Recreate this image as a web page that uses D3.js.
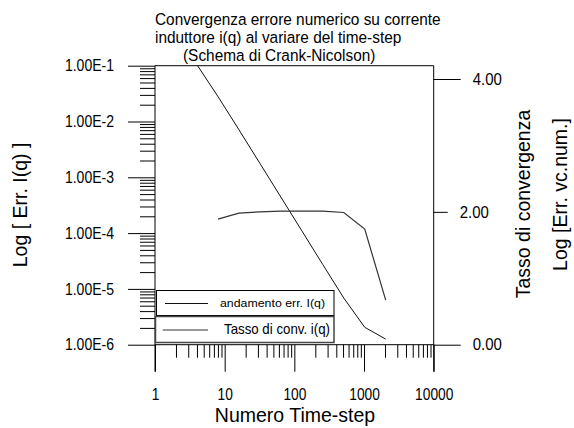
<!DOCTYPE html>
<html>
<head>
<meta charset="utf-8">
<script src="https://cdn.jsdelivr.net/npm/d3@7"></script>
<style>
  body { margin: 0; background: #fff; }
  svg { display: block; }
  text { font-family: "Liberation Sans", Arial, sans-serif; fill: #000; }
</style>
</head>
<body>
<svg id="chart" width="574" height="428"></svg>
<script>
// ---- data ----
const titleLines = [
  "Convergenza errore numerico su corrente",
  "induttore i(q) al variare del time-step",
  "(Schema di Crank-Nicolson)"
];
const timeSteps = [4, 8, 16, 32, 64, 128, 256, 512, 1024, 2048];
const errI = [1.04e-1, 2.81e-2, 7.14e-3, 1.78e-3, 4.42e-4, 1.10e-4, 2.73e-5, 6.86e-6, 2.05e-6, 1.26e-6];
const rateSteps = [8, 16, 32, 64, 128, 256, 512, 1024, 2048];
const rateI = [1.89, 1.98, 2.00, 2.01, 2.01, 2.01, 1.99, 1.74, 0.67];

const xTicks = [1, 10, 100, 1000, 10000];
const xTickLabels = ["1", "10", "100", "1000", "10000"];
const yLeftTicks = [1e-1, 1e-2, 1e-3, 1e-4, 1e-5, 1e-6];
const yLeftTickLabels = ["1.00E-1", "1.00E-2", "1.00E-3", "1.00E-4", "1.00E-5", "1.00E-6"];
const yRightTicks = [4, 2, 0];
const yRightTickLabels = ["4.00", "2.00", "0.00"];
const legendLabels = ["andamento err. I(q)", "Tasso di conv. i(q)"];
const xTitle = "Numero Time-step";
const yLeftTitle = "Log [ Err. I(q) ]";
const yRightTitles = ["Tasso di convergenza", "Log [Err. vc.num.]"];

// ---- layout ----
const plot = { left: 155, right: 433.7, top: 65.7, bottom: 344.7 };
const majorLen = 27;
const svg = d3.select("#chart");

const x = d3.scaleLog().domain([1, 10000]).range([plot.left, plot.right]);
const yL = d3.scaleLog().domain([1e-6, 1e-1]).range([plot.bottom, plot.top]);
const yR = d3.scaleLinear().domain([0, 4]).range([plot.bottom, 79]);

// minor log ticks (2..9 of every decade)
function minorTicks(lo, hi) {
  const out = [];
  for (let e = lo; e < hi; e++) for (let d = 2; d <= 9; d++) out.push(d * Math.pow(10, e));
  return out;
}

// narrow the glyphs horizontally around each text's own anchor point
function condense(sel, sx) {
  sel.each(function () {
    const t = d3.select(this);
    const tx = +t.attr("x") || 0, ty = +t.attr("y") || 0;
    t.attr("transform", `translate(${tx},${ty}) scale(${sx},1)`).attr("x", 0).attr("y", 0);
  });
}

// title
svg.append("g").selectAll("text").data(titleLines).join("text")
  .attr("x", (d, i) => i === 2 ? 183 : 155)
  .attr("y", (d, i) => 25 + i * 18)
  .attr("font-size", 17.2)
  .text(d => d)
  .call(condense, 0.895);

// clip region for the curves
svg.append("clipPath").attr("id", "plotClip").append("rect")
  .attr("x", plot.left).attr("y", plot.top)
  .attr("width", plot.right - plot.left).attr("height", plot.bottom - plot.top);

function tidy(g) {
  g.selectAll(".domain").remove();
  g.selectAll("line").attr("stroke", "#000");
  g.selectAll("text").attr("font-family", null);
}

// left axis: minor and major ticks
const gLm = svg.append("g").attr("transform", `translate(${plot.left},0)`)
  .call(d3.axisLeft(yL).tickValues(minorTicks(-6, -1)).tickSize(15).tickFormat(""));
tidy(gLm);
const gL = svg.append("g").attr("transform", `translate(${plot.left},0)`)
  .call(d3.axisLeft(yL).tickValues(yLeftTicks).tickSize(majorLen).tickPadding(14)
    .tickFormat((d, i) => yLeftTickLabels[i]));
tidy(gL);
gL.selectAll("text").attr("font-size", 16.3).call(condense, 0.86);

// bottom axis: minor and major ticks
const gBm = svg.append("g").attr("transform", `translate(0,${plot.bottom})`)
  .call(d3.axisBottom(x).tickValues(minorTicks(0, 4)).tickSize(13).tickFormat(""));
tidy(gBm);
const gB = svg.append("g").attr("transform", `translate(0,${plot.bottom})`)
  .call(d3.axisBottom(x).tickValues(xTicks).tickSize(majorLen).tickPadding(17)
    .tickFormat((d, i) => xTickLabels[i]));
tidy(gB);
gB.selectAll("text").attr("font-size", 16).call(condense, 0.86);

// right axis
const gR = svg.append("g").attr("transform", `translate(${plot.right},0)`)
  .call(d3.axisRight(yR).tickValues(yRightTicks).tickSize(majorLen).tickPadding(12)
    .tickFormat((d, i) => yRightTickLabels[i]));
tidy(gR);
gR.selectAll(".tick").filter(d => d === 2).each(function () {
  d3.select(this).select("line").attr("x2", 14);
  d3.select(this).select("text").attr("x", 26);
});
gR.selectAll("text").attr("font-size", 16.3).call(condense, 0.92);

// frame: left and right axis lines run past the bottom, top and bottom borders
const frame = svg.append("g").attr("stroke", "#000").attr("stroke-width", 1);
frame.append("line").attr("x1", plot.left).attr("x2", plot.left)
  .attr("y1", plot.top).attr("y2", plot.bottom + majorLen);
frame.append("line").attr("x1", plot.right).attr("x2", plot.right)
  .attr("y1", plot.top).attr("y2", plot.bottom + majorLen);
frame.append("line").attr("x1", plot.left).attr("x2", plot.right)
  .attr("y1", plot.top).attr("y2", plot.top);
frame.append("line").attr("x1", plot.left).attr("x2", plot.right)
  .attr("y1", plot.bottom).attr("y2", plot.bottom);

// curves
const curves = svg.append("g").attr("clip-path", "url(#plotClip)").attr("fill", "none");
curves.append("path")
  .datum(timeSteps.map((s, i) => [s, errI[i]]))
  .attr("stroke", "#111").attr("stroke-width", 1)
  .attr("d", d3.line().x(d => x(d[0])).y(d => yL(d[1])));
curves.append("path")
  .datum(rateSteps.map((s, i) => [s, rateI[i]]))
  .attr("stroke", "#333").attr("stroke-width", 1.2)
  .attr("d", d3.line().x(d => x(d[0])).y(d => yR(d[1])));

// legend
const leg = svg.append("g");
leg.append("rect").attr("x", 156.5).attr("y", 290.5).attr("width", 177.5).attr("height", 25)
  .attr("fill", "#fff").attr("stroke", "#000").attr("stroke-width", 1);
leg.append("line").attr("x1", 165).attr("x2", 208).attr("y1", 303.5).attr("y2", 303.5)
  .attr("stroke", "#111");
leg.append("text").attr("x", 220).attr("y", 307).attr("font-size", 10.5)
  .attr("textLength", 105).attr("lengthAdjust", "spacingAndGlyphs").text(legendLabels[0]);

leg.append("rect").attr("x", 155.5).attr("y", 316.5).attr("width", 178.5).attr("height", 26)
  .attr("fill", "#fff").attr("stroke", "#444").attr("stroke-width", 1.5);
leg.append("line").attr("x1", 162.7).attr("x2", 208).attr("y1", 330).attr("y2", 330)
  .attr("stroke", "#333").attr("stroke-width", 1.2);
leg.append("text").attr("x", 224).attr("y", 334).attr("font-size", 14.5)
  .attr("textLength", 106).attr("lengthAdjust", "spacingAndGlyphs").text(legendLabels[1]);

// axis titles
svg.append("text").attr("x", 295).attr("y", 421.5).attr("text-anchor", "middle")
  .attr("font-size", 19.5).text(xTitle);
svg.append("text").attr("transform", "translate(27,205) rotate(-90)").attr("text-anchor", "middle")
  .attr("font-size", 19.5).text(yLeftTitle);
svg.append("text").attr("transform", "translate(529.5,204) rotate(-90)").attr("text-anchor", "middle")
  .attr("font-size", 19.5).text(yRightTitles[0]);
svg.append("text").attr("transform", "translate(567,194.5) rotate(-90)").attr("text-anchor", "middle")
  .attr("font-size", 19.5).text(yRightTitles[1]);
</script>
</body>
</html>
